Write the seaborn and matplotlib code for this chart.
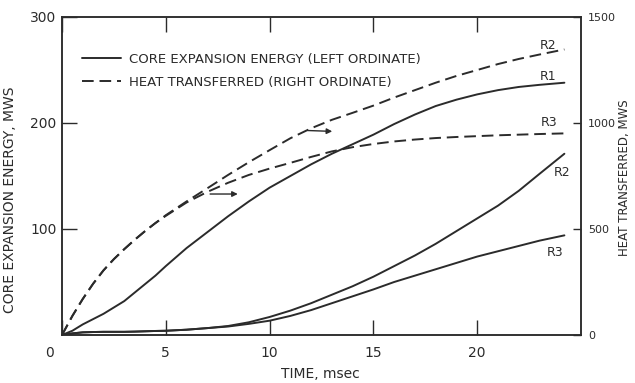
import matplotlib
matplotlib.use("Agg")
import matplotlib.pyplot as plt
import matplotlib.transforms as mtrans
from matplotlib.lines import Line2D
import seaborn as sns
import pandas as pd

# ---- data ----
time_ms = [0, 0.5, 1, 1.5, 2, 2.5, 3, 3.5, 4, 4.5, 5, 6, 7, 8, 9, 10, 11, 12, 13, 14,
           15, 16, 17, 18, 19, 20, 21, 22, 23, 24.2]

# core expansion energy (left ordinate, MWS)
energy_r1 = [0, 4, 10, 15, 20, 26, 32, 40, 48, 56, 65, 82, 97, 112, 126, 139, 150, 161, 171, 180,
             189, 199, 208, 216, 222, 227, 231, 234, 236, 238]
energy_r2 = [0, 1.5, 2.5, 2.8, 3, 3, 3, 3.2, 3.5, 3.8, 4, 5, 6.5, 8.5, 12, 17, 23, 30, 38, 46,
             55, 65, 75, 86, 98, 110, 122, 136, 152, 171]
energy_r3 = [0, 1.5, 2.5, 2.8, 3, 3, 3, 3.2, 3.5, 3.8, 4, 5, 6.5, 8, 10.5, 13.5, 18, 23.5, 30, 36.5,
             43, 50, 56, 62, 68, 74, 79, 84, 89, 94]

# heat transferred (right ordinate, MWS)
heat_r2 = [0, 90, 170, 242, 305, 358, 405, 449, 490, 528, 565, 630, 692, 755, 815, 872, 928, 975, 1015, 1048,
           1082, 1120, 1155, 1190, 1222, 1250, 1278, 1302, 1323, 1347]
heat_r3 = [0, 90, 170, 242, 305, 358, 405, 449, 490, 528, 562, 625, 675, 718, 755, 785, 812, 840, 866, 886,
           901, 913, 922, 929, 934, 938, 942, 945, 948, 951]

x_ticks = [0, 5, 10, 15, 20]
left_ticks = [100, 200, 300]
right_ticks = [0, 500, 1000, 1500]

legend_labels = ["CORE EXPANSION ENERGY (LEFT ORDINATE)", "HEAT TRANSFERRED (RIGHT ORDINATE)"]
x_label = "TIME, msec"
left_label = "CORE EXPANSION ENERGY, MWS"
right_label = "HEAT TRANSFERRED, MWS"

df = pd.DataFrame({
    "t": time_ms,
    "e_r1": energy_r1, "e_r2": energy_r2, "e_r3": energy_r3,
    "h_r2": heat_r2, "h_r3": heat_r3,
})

sns.set_theme(style="ticks")
plt.rcParams["font.family"] = ["DejaVu Sans"]

INK = "#2b2b2b"
LW = 1.4
DASH = (0, (6, 3))

fig = plt.figure(figsize=(6.35, 3.83), dpi=100)
fig.patch.set_facecolor("white")
ax = fig.add_axes([62/635, 1-335/383, (581-62)/635, (335-17)/383])
ax.set_facecolor("white")
ax2 = ax.twinx()

for col in ["e_r1", "e_r2", "e_r3"]:
    sns.lineplot(data=df, x="t", y=col, ax=ax, color=INK, lw=LW, legend=False)
for col in ["h_r2", "h_r3"]:
    sns.lineplot(data=df, x="t", y=col, ax=ax2, color=INK, lw=LW, legend=False)
for ln in ax2.get_lines():
    ln.set_linestyle(DASH)

ax.set_xlim(0, 25)
ax.set_ylim(0, 300)
ax2.set_ylim(0, 1500)

for a in (ax, ax2):
    for s in a.spines.values():
        s.set_color(INK)
        s.set_linewidth(1.1)
        s.set_visible(True)

ax.set_xticks(x_ticks)
ax.set_xticklabels([str(v) for v in x_ticks])
ax.set_yticks(left_ticks)
ax.set_yticklabels([str(v) for v in left_ticks])
ax2.set_yticks(right_ticks)
ax2.set_yticklabels([str(v) for v in right_ticks])

ax.tick_params(axis="x", direction="in", length=11, width=1.0, color=INK,
               labelsize=10, labelcolor=INK, pad=8, top=True)
ax.tick_params(axis="y", direction="in", length=11, width=1.0, color=INK,
               labelsize=10, labelcolor=INK, pad=4)
ax2.tick_params(axis="y", direction="in", length=6, width=1.0, color=INK,
                labelsize=8, labelcolor=INK, pad=5)

# shift the corner "0" label a bit to the left, as in the reference
lbl0 = ax.get_xticklabels()[0]
lbl0.set_transform(lbl0.get_transform() + mtrans.ScaledTranslation(-12/100, 0, fig.dpi_scale_trans))

ax.set_xlabel(x_label, fontsize=10, color=INK)
ax.xaxis.set_label_coords(0.497, -0.10)
ax.set_ylabel(left_label, fontsize=10, color=INK)
ax.yaxis.set_label_coords(-0.086, 0.425)
ax2.set_ylabel(right_label, fontsize=8.5, color=INK, rotation=90)
ax2.yaxis.set_label_coords(1.072, 0.494)

handles = [Line2D([], [], color=INK, lw=LW),
           Line2D([], [], color=INK, lw=LW, linestyle=DASH)]
leg = ax.legend(handles, legend_labels, loc="upper left", bbox_to_anchor=(0.015, 0.925),
                frameon=False, fontsize=9.5, handlelength=3.0, handletextpad=0.6,
                labelspacing=0.75, labelcolor=INK)

# curve labels (left-ordinate data coordinates)
lab_kw = dict(fontsize=9, color=INK, ha="center", va="center")
ax.text(23.4, 273, "R2", **lab_kw)
ax.text(23.4, 244, "R1", **lab_kw)
ax.text(23.45, 200, "R3", **lab_kw)
ax.text(24.1, 153, "R2", **lab_kw)
ax.text(23.75, 78, "R3", **lab_kw)

# direction arrows (pointing to the right ordinate)
arw = dict(arrowstyle="-|>", color=INK, lw=1.0, mutation_scale=8)
ax.annotate("", xy=(13.15, 192), xytext=(11.7, 193), arrowprops=arw)
ax.annotate("", xy=(8.6, 133), xytext=(7.0, 133), arrowprops=arw)

fig.savefig("out.png", dpi=100, facecolor="white")
